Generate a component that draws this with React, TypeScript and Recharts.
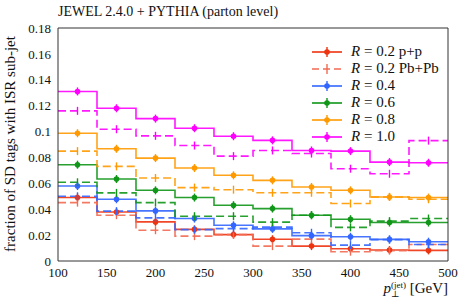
import React from "react"
import { ComposedChart, Line, Scatter, XAxis, YAxis, Legend } from "recharts"

// bin edges in p_T^(jet) [GeV] and bin centres where the markers sit
const binEdges = [100, 140, 180, 220, 260, 300, 340, 380, 420, 460, 500]
const binCenters = [120, 160, 200, 240, 280, 320, 360, 400, 440, 480]

// fraction of SD tags with ISR sub-jet, one value per bin
const r02pp = [0.049, 0.0379, 0.0302, 0.0244, 0.0204, 0.0168, 0.0115, 0.0095, 0.0085, 0.0082]
const r02pbpb = [0.0451, 0.0354, 0.0238, 0.0192, 0.0204, 0.0115, 0.0169, 0.0072, 0.008, 0.0128]
const r04pp = [0.0579, 0.0477, 0.0387, 0.0328, 0.0276, 0.0248, 0.0196, 0.0187, 0.0167, 0.0149]
const r04pbpb = [0.05, 0.0385, 0.0333, 0.0242, 0.025, 0.0262, 0.0218, 0.0123, 0.0165, 0.0128]
const r06pp = [0.0744, 0.0633, 0.0546, 0.049, 0.0431, 0.0405, 0.0354, 0.0323, 0.0297, 0.0297]
const r06pbpb = [0.0608, 0.0526, 0.0451, 0.0346, 0.0346, 0.03, 0.0354, 0.026, 0.0308, 0.0328]
const r08pp = [0.0987, 0.0867, 0.0795, 0.0718, 0.0662, 0.0623, 0.0572, 0.0546, 0.0495, 0.049]
const r08pbpb = [0.0849, 0.0731, 0.0641, 0.0567, 0.0551, 0.0527, 0.0527, 0.0444, 0.0495, 0.0477]
const r10pp = [0.131, 0.118, 0.11, 0.1026, 0.0964, 0.0932, 0.0854, 0.0849, 0.0764, 0.0759]
const r10pbpb = [0.116, 0.1018, 0.0967, 0.0892, 0.081, 0.0854, 0.083, 0.0713, 0.0674, 0.093]

const xTicks = [100, 150, 200, 250, 300, 350, 400, 450, 500]
const yTicks = [0, 0.02, 0.04, 0.06, 0.08, 0.1, 0.12, 0.14, 0.16, 0.18]
const xMinor = Array.from({ length: 41 }, (_, i) => 100 + i * 10)
const yMinor = Array.from({ length: 37 }, (_, i) => +(i * 0.005).toFixed(3))

const font = "Liberation Serif, DejaVu Serif, serif"
const frame = "#333"

const series = [
  { key: "r02pp", values: r02pp, color: "#ee3311", dashed: false, label: "0.2 p+p" },
  { key: "r02pbpb", values: r02pbpb, color: "#f26a52", dashed: true, label: "0.2 Pb+Pb" },
  { key: "r04pp", values: r04pp, color: "#3366ff", dashed: false, label: "0.4" },
  { key: "r04pbpb", values: r04pbpb, color: "#3366ff", dashed: true },
  { key: "r06pp", values: r06pp, color: "#109618", dashed: false, label: "0.6" },
  { key: "r06pbpb", values: r06pbpb, color: "#109618", dashed: true },
  { key: "r08pp", values: r08pp, color: "#ff9900", dashed: false, label: "0.8" },
  { key: "r08pbpb", values: r08pbpb, color: "#ff9900", dashed: true },
  { key: "r10pp", values: r10pp, color: "#ff00ff", dashed: false, label: "1.0" },
  { key: "r10pbpb", values: r10pbpb, color: "#ff00ff", dashed: true },
]

// histogram rows: one row per bin edge, last edge repeats the last bin
const stepRows = binEdges.map((x, i) => {
  const row: Record<string, number> = { x }
  series.forEach((s) => {
    row[s.key] = s.values[Math.min(i, s.values.length - 1)]
  })
  return row
})

const markerShape = (color: string, dashed: boolean) => (props: any) => {
  const { cx, cy } = props
  return (
    <g>
      <line x1={cx} x2={cx} y1={cy - 4} y2={cy + 4} stroke={color} strokeWidth={1.4} />
      {!dashed && <circle cx={cx} cy={cy} r={2.8} fill={color} />}
    </g>
  )
}

const XTick = (props: any) => (
  <text x={props.x} y={props.y + 1} dy="0.71em" textAnchor="middle" fill="#111" fontSize={13} fontFamily={font}>
    {props.payload.value}
  </text>
)

const YTick = (props: any) => (
  <text x={props.x} y={props.y} dy="0.355em" textAnchor="end" fill="#111" fontSize={13} fontFamily={font}>
    {String(parseFloat(Number(props.payload.value).toFixed(3)))}
  </text>
)

function LegendBox() {
  return (
    <div style={{ fontFamily: font, fontSize: 15, color: "#111" }}>
      {series
        .filter((s) => s.label)
        .map((s) => (
          <div key={s.key} style={{ display: "flex", alignItems: "center", height: 17 }}>
            <svg width={30} height={12}>
              <line x1={0} x2={30} y1={6} y2={6} stroke={s.color} strokeWidth={1.6}
                strokeDasharray={s.dashed ? "7 4" : undefined} />
              <line x1={15} x2={15} y1={1} y2={11} stroke={s.color} strokeWidth={1.4} />
              {!s.dashed && <circle cx={15} cy={6} r={2.8} fill={s.color} />}
            </svg>
            <span style={{ marginLeft: 9, whiteSpace: "nowrap" }}>
              <i>R</i> = {s.label}
            </span>
          </div>
        ))}
    </div>
  )
}

const hiddenX = { type: "number" as const, domain: [100, 500], allowDataOverflow: true, tick: false, interval: 0 as const }
const hiddenY = { type: "number" as const, domain: [0, 0.18], allowDataOverflow: true, tick: false, interval: 0 as const }

export default function App() {
  return (
    <div style={{ position: "absolute", left: 0, top: 0, width: 463, height: 301, background: "#fff", fontFamily: font }}>
      <div style={{ position: "absolute", left: 58, top: 4, fontSize: 14, lineHeight: "16px", color: "#111", whiteSpace: "nowrap" }}>
        JEWEL 2.4.0 + PYTHIA (parton level)
      </div>
      <div
        style={{
          position: "absolute", left: 10, top: 144, transform: "translate(-50%, -50%) rotate(-90deg)",
          fontSize: 15, color: "#111", whiteSpace: "nowrap",
        }}
      >
        fraction of SD tags with ISR sub-jet
      </div>
      <div style={{ position: "absolute", right: 15, top: 280, fontSize: 15, lineHeight: "16px", color: "#111", whiteSpace: "nowrap" }}>
        <i>p</i>
        <span style={{ position: "relative", display: "inline-block" }}>
          <span style={{ fontSize: 9, lineHeight: "9px", position: "relative", top: -5 }}>(jet)</span>
          <span style={{ position: "absolute", left: 0, top: 10, fontSize: 9, lineHeight: "9px" }}>⊥</span>
        </span>{" "}
        [GeV]
      </div>
      <ComposedChart width={463} height={301} data={stepRows} margin={{ top: 28, right: 15, bottom: 0, left: 0 }}>
        <XAxis
          xAxisId="x" type="number" dataKey="x" domain={[100, 500]} ticks={xTicks} interval={0}
          tickLine={false} axisLine={{ stroke: frame }} height={40} tickSize={4}
          tick={<XTick />}
        />
        <YAxis
          yAxisId="y" type="number" domain={[0, 0.18]} ticks={yTicks} interval={0} width={58}
          tickLine={false} axisLine={{ stroke: frame }} tickSize={5}
          tick={<YTick />}
        />
        <XAxis xAxisId="xb1" {...hiddenX} ticks={xTicks} mirror tickSize={10} axisLine={false} tickLine={{ stroke: frame }} />
        <XAxis xAxisId="xb2" {...hiddenX} ticks={xMinor} mirror tickSize={5} axisLine={false} tickLine={{ stroke: frame }} />
        <XAxis xAxisId="xt1" {...hiddenX} orientation="top" ticks={xTicks} mirror tickSize={10} axisLine={{ stroke: frame }} tickLine={{ stroke: frame }} />
        <XAxis xAxisId="xt2" {...hiddenX} orientation="top" ticks={xMinor} mirror tickSize={5} axisLine={false} tickLine={{ stroke: frame }} />
        <YAxis yAxisId="yl1" {...hiddenY} ticks={yTicks} mirror tickSize={10} axisLine={false} tickLine={{ stroke: frame }} />
        <YAxis yAxisId="yl2" {...hiddenY} ticks={yMinor} mirror tickSize={5} axisLine={false} tickLine={{ stroke: frame }} />
        <YAxis yAxisId="yr1" {...hiddenY} orientation="right" ticks={yTicks} mirror tickSize={10} axisLine={{ stroke: frame }} tickLine={{ stroke: frame }} />
        <YAxis yAxisId="yr2" {...hiddenY} orientation="right" ticks={yMinor} mirror tickSize={5} axisLine={false} tickLine={{ stroke: frame }} />
        {series.map((s) => (
          <Line
            key={s.key} xAxisId="x" yAxisId="y" type="stepAfter" dataKey={s.key}
            stroke={s.color} strokeWidth={1.6} strokeOpacity={0.9}
            strokeDasharray={s.dashed ? "8 4" : undefined}
            dot={false} activeDot={false} isAnimationActive={false} legendType="none"
          />
        ))}
        {series.map((s) => (
          <Scatter
            key={s.key + "-m"} xAxisId="x" yAxisId="y" dataKey="y"
            data={binCenters.map((x, i) => ({ x, y: s.values[i] }))}
            shape={markerShape(s.color, s.dashed)} isAnimationActive={false} legendType="none"
          />
        ))}
        <Legend
          layout="horizontal" verticalAlign="middle" align="center"
          wrapperStyle={{ left: 312, top: 43, width: 145 }}
          content={() => <LegendBox />}
        />
      </ComposedChart>
    </div>
  )
}
